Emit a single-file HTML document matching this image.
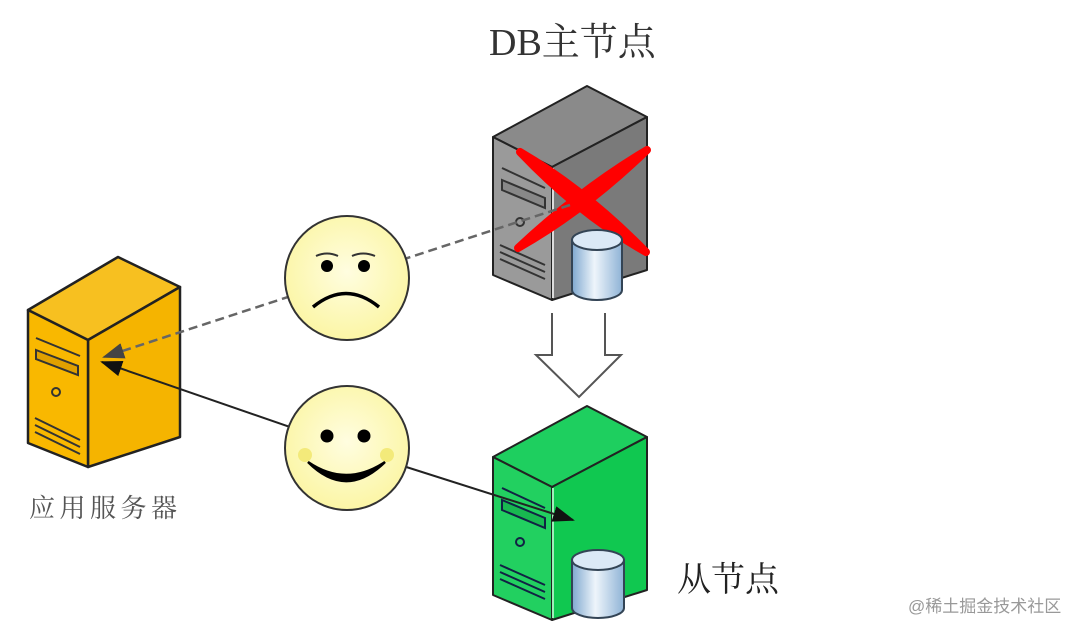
<!DOCTYPE html>
<html><head><meta charset="utf-8"><style>
html,body{margin:0;padding:0;background:#fff;width:1089px;height:635px;overflow:hidden}
svg{display:block}
</style></head><body>
<svg width="1089" height="635" viewBox="0 0 1089 635" xmlns="http://www.w3.org/2000/svg">
<defs>
<linearGradient id="cyl" x1="0" x2="1"><stop offset="0" stop-color="#7fa8cf"/><stop offset="0.45" stop-color="#eef5fb"/><stop offset="1" stop-color="#8fb3d6"/></linearGradient>
<radialGradient id="face" cx="0.5" cy="0.45" r="0.6"><stop offset="0" stop-color="#fffde0"/><stop offset="1" stop-color="#fbf5a0"/></radialGradient>
<marker id="ah2" markerWidth="22" markerHeight="16" refX="20" refY="8" orient="auto" markerUnits="userSpaceOnUse"><path d="M0,0 L22,8 L0,16 z" fill="#111"/></marker>
<marker id="ah3" markerWidth="22" markerHeight="16" refX="20" refY="8" orient="auto" markerUnits="userSpaceOnUse"><path d="M0,0 L22,8 L0,16 z" fill="#444"/></marker>
</defs>

<text x="489" y="55" font-family="Liberation Serif, 'Noto Serif CJK SC', serif" font-size="38" fill="#333">DB主节点</text>
<text x="29" y="517" font-family="Liberation Serif, 'Noto Serif CJK SC', serif" font-size="26" letter-spacing="4.5" fill="#555">应用服务器</text>
<text x="677" y="591" font-family="Liberation Serif, 'Noto Serif CJK SC', serif" font-size="34" fill="#222">从节点</text>
<text x="908" y="612" font-family="Liberation Sans, 'Noto Sans CJK SC', sans-serif" font-size="17" fill="#999">@稀土掘金技术社区</text>

<!-- yellow server -->
<g stroke="#222" stroke-width="2.5" stroke-linejoin="round">
<polygon points="28,310 118,257 180,287 88,340" fill="#f7c020"/>
<polygon points="88,340 180,287 180,437 88,467" fill="#f5b400"/>
<polygon points="28,310 88,340 88,467 28,443" fill="#f9b800"/>
</g>
<g stroke="#333" stroke-width="2" fill="none">
<path d="M36,338 L80,356"/>
<path d="M36,350 L78,366 L78,375 L36,359 Z" fill="#e0a000"/>
<circle cx="56" cy="392" r="4"/>
<path d="M35,418 L80,440 M35,425 L80,447 M35,432 L80,454"/>
</g>

<!-- gray server -->
<g stroke="#222" stroke-width="2" stroke-linejoin="round">
<polygon points="493,137 587,86 647,117 552,167" fill="#8a8a8a"/>
<polygon points="552,167 647,117 647,270 552,300" fill="#7a7a7a"/>
<polygon points="493,137 552,167 552,300 493,275" fill="#9a9a9a"/>
</g>
<line x1="553" y1="168" x2="553" y2="298" stroke="#ddd" stroke-width="2"/>
<g stroke="#333" stroke-width="2" fill="none">
<path d="M502,168 L545,188"/>
<path d="M502,180 L545,198 L545,208 L502,190 Z" fill="#888"/>
<circle cx="520" cy="222" r="4"/>
<path d="M500,245 L545,265 M500,252 L545,272 M500,259 L545,279"/>
</g>
<g fill="#f00">
<path d="M520,152 Q585,190 646,252 Q580,215 520,152 Z" stroke="#f00" stroke-width="8" stroke-linejoin="round"/>
<path d="M647,150 Q580,190 518,248 Q585,210 647,150 Z" stroke="#f00" stroke-width="8" stroke-linejoin="round"/>
</g>
<g stroke="#345" stroke-width="2">
<path d="M572,240 L572,290 A25,10 0 0 0 622,290 L622,240 Z" fill="url(#cyl)"/>
<ellipse cx="597" cy="240" rx="25" ry="10" fill="#dbe9f6"/>
</g>

<!-- green server -->
<g stroke="#222" stroke-width="2" stroke-linejoin="round">
<polygon points="493,457 587,406 647,437 552,487" fill="#1ecf5f"/>
<polygon points="552,487 647,437 647,590 552,620" fill="#10c850"/>
<polygon points="493,457 552,487 552,620 493,595" fill="#22d060"/>
</g>
<line x1="553" y1="488" x2="553" y2="618" stroke="#9fefb9" stroke-width="2"/>
<g stroke="#124" stroke-width="2" fill="none">
<path d="M502,488 L545,508"/>
<path d="M502,500 L545,518 L545,528 L502,510 Z" fill="#18b850"/>
<circle cx="520" cy="542" r="4"/>
<path d="M500,565 L545,585 M500,572 L545,592 M500,579 L545,599"/>
</g>
<g stroke="#345" stroke-width="2">
<path d="M572,560 L572,608 A26,10 0 0 0 624,608 L624,560 Z" fill="url(#cyl)"/>
<ellipse cx="598" cy="560" rx="26" ry="10" fill="#dbe9f6"/>
</g>

<path d="M552,313 L552,355 L536,355 L579,397 L621,355 L605,355 L605,313" fill="#fff" stroke="#555" stroke-width="2"/>

<line x1="570" y1="205" x2="104" y2="357" stroke="#666" stroke-width="2.5" stroke-dasharray="9,5" marker-end="url(#ah3)"/>
<line x1="400" y1="465" x2="102" y2="362" stroke="#222" stroke-width="2" marker-end="url(#ah2)"/>
<line x1="400" y1="465" x2="573" y2="520" stroke="#222" stroke-width="2" marker-end="url(#ah2)"/>

<circle cx="347" cy="278" r="62" fill="url(#face)" stroke="#333" stroke-width="2"/>
<circle cx="327" cy="266" r="6" fill="#000"/><circle cx="364" cy="266" r="6" fill="#000"/>
<path d="M316,256 Q327,251 338,256 M352,256 Q363,251 375,256" stroke="#333" stroke-width="2" fill="none"/>
<path d="M313,307 Q346,280 379,307" stroke="#000" stroke-width="3.5" fill="none"/>

<circle cx="347" cy="448" r="62" fill="url(#face)" stroke="#333" stroke-width="2"/>
<circle cx="327" cy="436" r="6.5" fill="#000"/><circle cx="364" cy="436" r="6.5" fill="#000"/>
<circle cx="305" cy="455" r="7" fill="#f3ea7a"/><circle cx="387" cy="455" r="7" fill="#f3ea7a"/>
<path d="M308,462 Q346,500 385,462 Q346,488 308,462 Z" fill="#000" stroke="#000" stroke-width="2.5"/>
</svg>
</body></html>
